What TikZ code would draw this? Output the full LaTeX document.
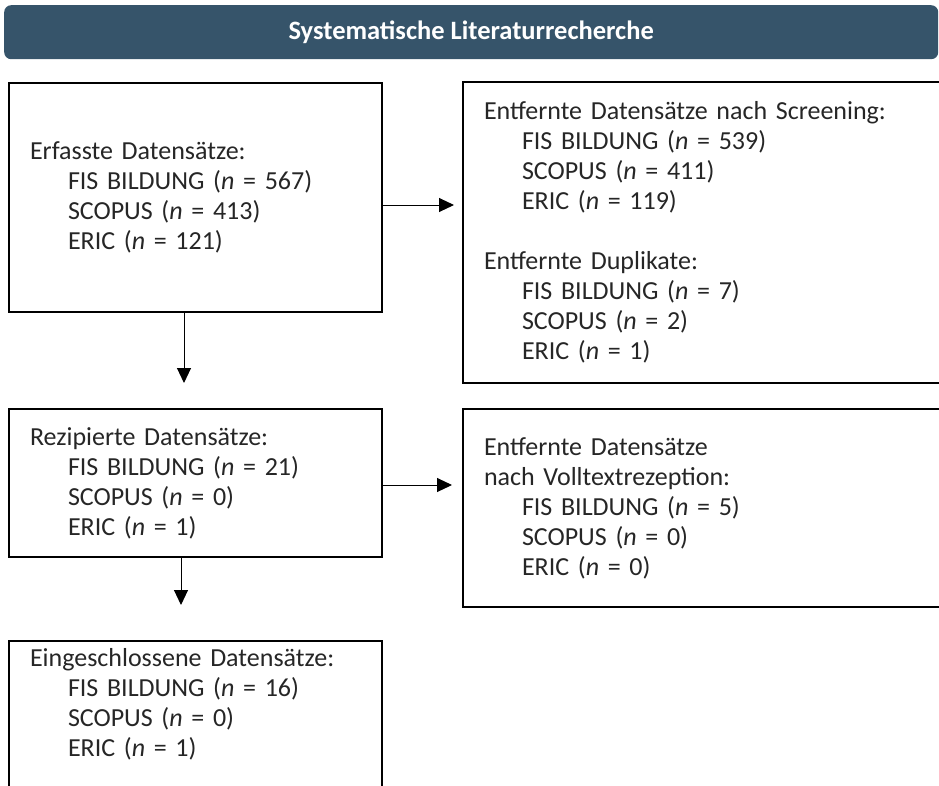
\documentclass[tikz,border=0pt]{standalone}
\usepackage{fontspec}
\setmainfont{Carlito}
\usetikzlibrary{arrows.meta, positioning}
\definecolor{headblue}{RGB}{54,84,106}
\definecolor{textgray}{RGB}{38,38,38}
\newcommand{\einr}{\hspace*{38pt}}
\newcommand{\anz}[1]{(\textit{n} = #1)}

\begin{document}
\begin{tikzpicture}[x=1pt, y=-1pt,
	header/.style={fill=headblue, rounded corners=7pt, anchor=north west, minimum width=934pt, minimum height=54pt, text=white, font=\fontsize{26.5}{30}\selectfont\bfseries},
	box/.style={draw, line width=2pt, anchor=north west, align=left, inner xsep=21pt, inner ysep=0pt, font=\fontsize{26}{30}\selectfont, text=textgray},
	arr/.style={-{Triangle[length=15pt, width=14pt]}, line width=1pt}]
	\useasboundingbox (0,0) rectangle (939,785);
	\clip (0,0) rectangle (939,785);

	\node [header] (titel) at (4,5) {Systematische Literaturrecherche};

	\node [box, text width=331pt, minimum height=229pt] (erfasst) at (8,82)
		{Erfasste Datensätze:\\ \einr FIS BILDUNG \anz{567}\\ \einr SCOPUS \anz{413}\\ \einr ERIC \anz{121}};
	\node [box, text width=448pt, minimum height=301pt] (screening) at (462,81)
		{Entfernte Datensätze nach Screening:\\ \einr FIS BILDUNG \anz{539}\\ \einr SCOPUS \anz{411}\\ \einr ERIC \anz{119}\\[30pt]
		Entfernte Duplikate:\\ \einr FIS BILDUNG \anz{7}\\ \einr SCOPUS \anz{2}\\ \einr ERIC \anz{1}};
	\node [box, text width=331pt, minimum height=148pt] (rezipiert) at (8,408)
		{Rezipierte Datensätze:\\ \einr FIS BILDUNG \anz{21}\\ \einr SCOPUS \anz{0}\\ \einr ERIC \anz{1}};
	\node [box, text width=448pt, minimum height=198pt] (volltext) at (462,408)
		{Entfernte Datensätze\\ nach Volltextrezeption:\\ \einr FIS BILDUNG \anz{5}\\ \einr SCOPUS \anz{0}\\ \einr ERIC \anz{0}};
	\node [box, text width=331pt, inner ysep=7pt] (eingeschl) at (8,640)
		{Eingeschlossene Datensätze:\\ \einr FIS BILDUNG \anz{16}\\ \einr SCOPUS \anz{0}\\ \einr ERIC \anz{1}\\[40pt] \mbox{}};

	\draw [arr, shorten >=8pt] ([yshift=-7.5pt]erfasst.east) -- ([yshift=-7.5pt]erfasst.east -| screening.west);
	\draw [arr, shorten >=25pt] ([xshift=-11.5pt]erfasst.south) -- ([xshift=-11.5pt]erfasst.south |- rezipiert.north);
	\draw [arr, shorten >=10pt] ([yshift=-2pt]rezipiert.east) -- ([yshift=-2pt]rezipiert.east -| volltext.west);
	\draw [arr, shorten >=35pt] ([xshift=-14.5pt]rezipiert.south) -- ([xshift=-14.5pt]rezipiert.south |- eingeschl.north);
\end{tikzpicture}
\end{document}
